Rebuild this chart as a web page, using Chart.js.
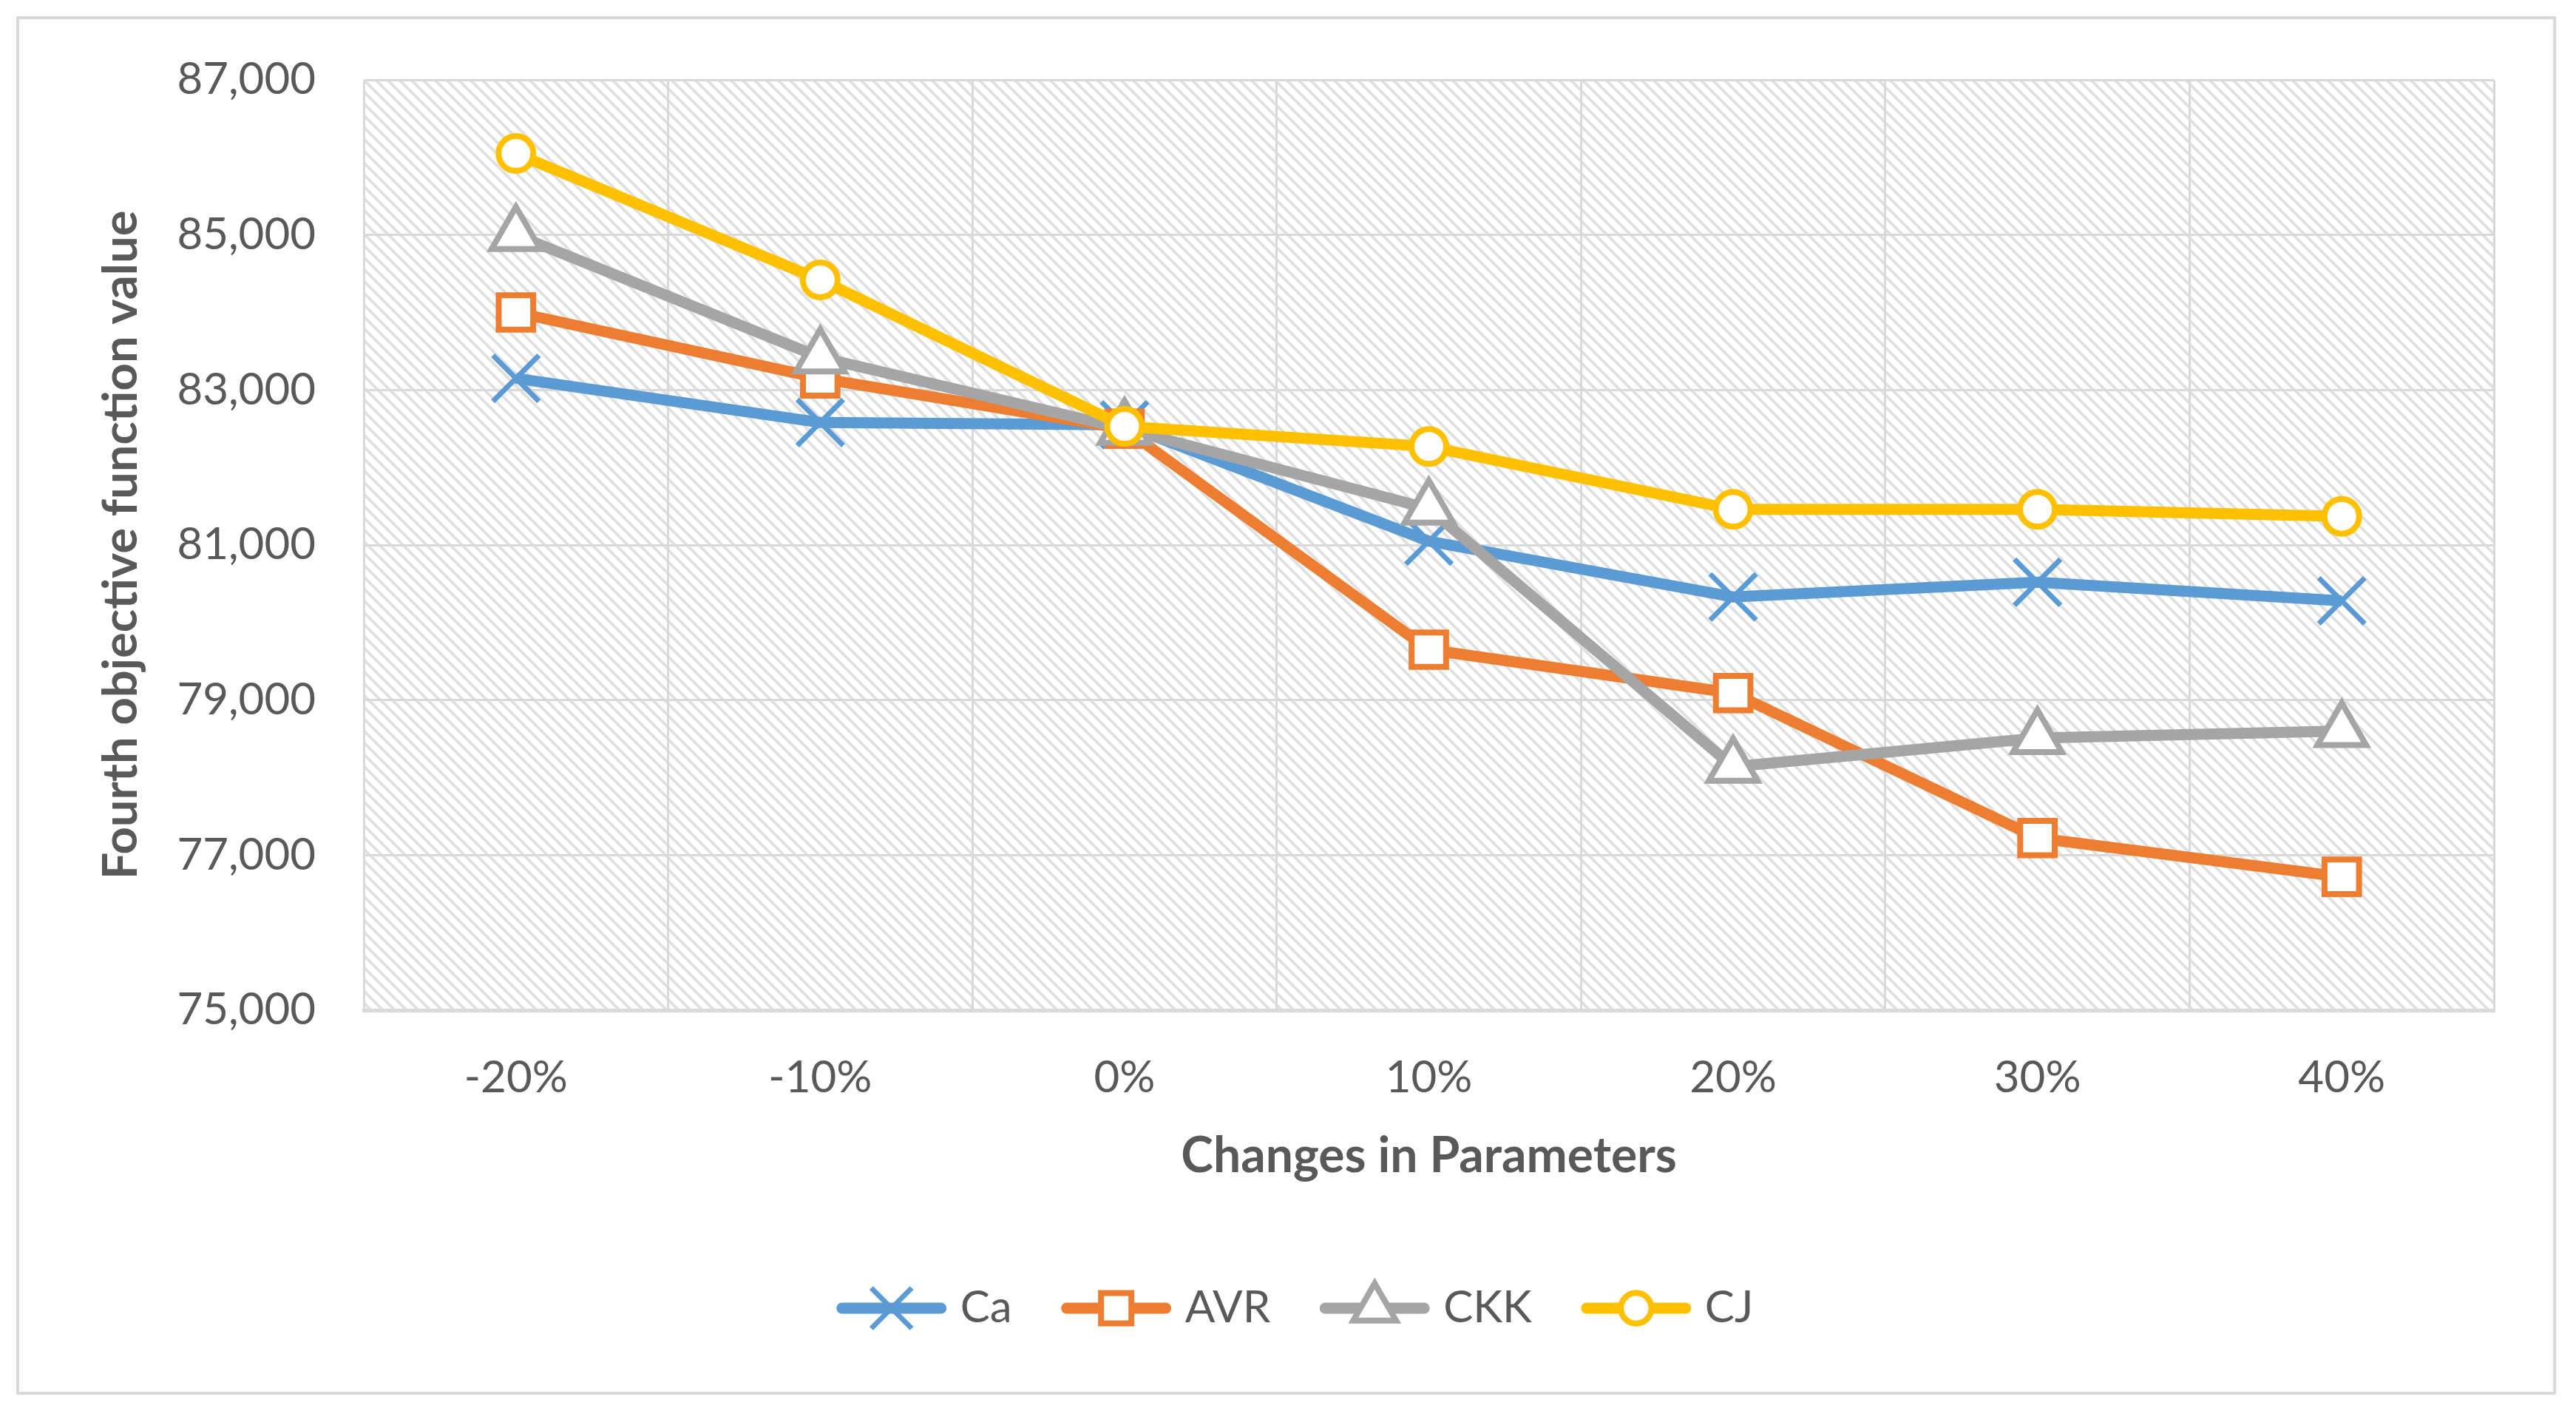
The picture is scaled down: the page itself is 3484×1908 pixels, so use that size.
<!DOCTYPE html>
<html>
<head>
<meta charset="utf-8">
<script src="https://cdn.jsdelivr.net/npm/chart.js@4.4.1/dist/chart.umd.min.js"></script>
<style>
  html, body { margin: 0; padding: 0; background: #fff; }
  #wrap { position: relative; width: 3484px; height: 1908px; }
  #frame { position: absolute; left: 22px; top: 22px; width: 3435px; height: 1864px;
           border: 4px solid #d9d9d9; box-sizing: border-box; pointer-events: none; }
  canvas { position: absolute; left: 0; top: 0; }
</style>
</head>
<body>
<div id="wrap">
  <canvas id="chart" width="3484" height="1908" style="width:3484px;height:1908px"></canvas>
  <div id="frame"></div>
</div>
<script>
// categories and values
const categories = ['-20%', '-10%', '0%', '10%', '20%', '30%', '40%'];
const caValues  = [83150, 82580, 82550, 81050, 80330, 80520, 80280];
const avrValues = [84000, 83150, 82500, 79650, 79090, 77220, 76720];
const ckkValues = [85000, 83420, 82500, 81470, 78140, 78510, 78600];
const cjValues  = [86050, 84420, 82530, 82270, 81460, 81460, 81370];
const yTicks = [75000, 77000, 79000, 81000, 83000, 85000, 87000];

const textColor = '#595959';
const gridColor = '#d9d9d9';

// diagonal hatch for the plot area
const makeHatch = (ctx) => {
    const size = 16;
    const tile = document.createElement('canvas');
    tile.width = size; tile.height = size;
    const t = tile.getContext('2d');
    t.fillStyle = '#ffffff';
    t.fillRect(0, 0, size, size);
    t.strokeStyle = '#e0e0e0';
    t.lineWidth = 4;
    t.beginPath();
    t.moveTo(-size, 0); t.lineTo(size, 2 * size);
    t.moveTo(0, -size); t.lineTo(2 * size, size);
    t.moveTo(-size, -size); t.lineTo(2 * size, 2 * size);
    t.stroke();
    return ctx.createPattern(tile, 'repeat');
};

const hatchPlugin = {
    id: 'hatch',
    beforeDraw(chart) {
        const { ctx, chartArea: a } = chart;
        ctx.save();
        ctx.fillStyle = makeHatch(ctx);
        ctx.fillRect(a.left, a.top, a.right - a.left, a.bottom - a.top);
        ctx.restore();
    }
};

// Excel style legend: short line with the marker on it
const legendPlugin = {
    id: 'lineLegend',
    afterDraw(chart) {
        const ctx = chart.ctx;
        const lineLen = 150, gapText = 18, gapItem = 66;
        const y = 1769;
        ctx.save();
        ctx.font = '60px Lato';
        const items = chart.data.datasets.map(ds => ({ ds, w: ctx.measureText(ds.label).width }));
        const total = items.reduce((s, it) => s + lineLen + gapText + it.w, 0) + gapItem * (items.length - 1);
        let x = 1751 - total / 2;
        items.forEach(({ ds, w }) => {
            ctx.strokeStyle = ds.borderColor;
            ctx.lineWidth = ds.borderWidth;
            ctx.lineCap = 'round';
            ctx.beginPath();
            ctx.moveTo(x + 8, y);
            ctx.lineTo(x + lineLen - 8, y);
            ctx.stroke();
            ctx.lineCap = 'butt';
            ctx.fillStyle = '#ffffff';
            ctx.strokeStyle = ds.pointBorderColor;
            ctx.lineWidth = ds.pointBorderWidth;
            Chart.helpers.drawPoint(ctx, {
                pointStyle: ds.pointStyle,
                radius: ds.pointRadius * 0.88,
                rotation: 0,
                borderWidth: ds.pointBorderWidth
            }, x + lineLen / 2, y);
            ctx.fillStyle = textColor;
            ctx.textBaseline = 'middle';
            ctx.textAlign = 'left';
            ctx.fillText(ds.label, x + lineLen + gapText, y);
            x += lineLen + gapText + w + gapItem;
        });
        ctx.restore();
    }
};

const makeSeries = (label, values, color, style, radius, pw, order) => ({
    label,
    data: values,
    borderColor: color,
    borderWidth: 15,
    pointStyle: style,
    pointRadius: radius,
    pointHoverRadius: radius,
    pointBorderColor: color,
    pointBackgroundColor: '#ffffff',
    pointBorderWidth: pw,
    fill: false,
    tension: 0,
    order
});

const ctx = document.getElementById('chart').getContext('2d');

new Chart(ctx, {
    type: 'line',
    data: {
        labels: categories,
        datasets: [
            makeSeries('Ca', caValues, '#5B9BD5', 'crossRot', 44, 7, 3),
            makeSeries('AVR', avrValues, '#ED7D31', 'rect', 33, 8, 2),
            makeSeries('CKK', ckkValues, '#A5A5A5', 'triangle', 38, 8, 1),
            makeSeries('CJ', cjValues, '#FFC000', 'circle', 23.5, 8, 0)
        ]
    },
    options: {
        responsive: false,
        animation: false,
        devicePixelRatio: 1,
        layout: { padding: { top: 108, right: 111, bottom: 0, left: 0 } },
        plugins: {
            legend: { display: false },
            tooltip: { enabled: false }
        },
        scales: {
            x: {
                offset: true,
                grid: { offset: true, color: gridColor, lineWidth: 3, drawTicks: false },
                border: { color: gridColor, width: 5 },
                ticks: {
                    color: textColor,
                    font: { family: 'Lato', size: 60 },
                    padding: 56
                },
                title: {
                    display: true,
                    text: 'Changes in Parameters',
                    color: textColor,
                    font: { family: 'Lato', size: 66, weight: 'bold' },
                    padding: { top: 0, bottom: 305 }
                },
                afterFit: (scale) => { scale.height = 542; }
            },
            y: {
                min: 75000,
                max: 87000,
                afterBuildTicks: (scale) => { scale.ticks = yTicks.map(v => ({ value: v })); },
                grid: { color: gridColor, lineWidth: 3, drawTicks: false },
                border: { display: false },
                ticks: {
                    color: textColor,
                    font: { family: 'Lato', size: 60 },
                    padding: 65,
                    callback: (v) => Number(v).toLocaleString('en-US')
                },
                title: {
                    display: true,
                    text: 'Fourth objective function value',
                    color: textColor,
                    font: { family: 'Lato', size: 65, weight: 'bold' },
                    padding: { top: 125, bottom: 0 }
                },
                afterFit: (scale) => { scale.width = 492; }
            }
        }
    },
    plugins: [hatchPlugin, legendPlugin]
});
</script>
</body>
</html>
